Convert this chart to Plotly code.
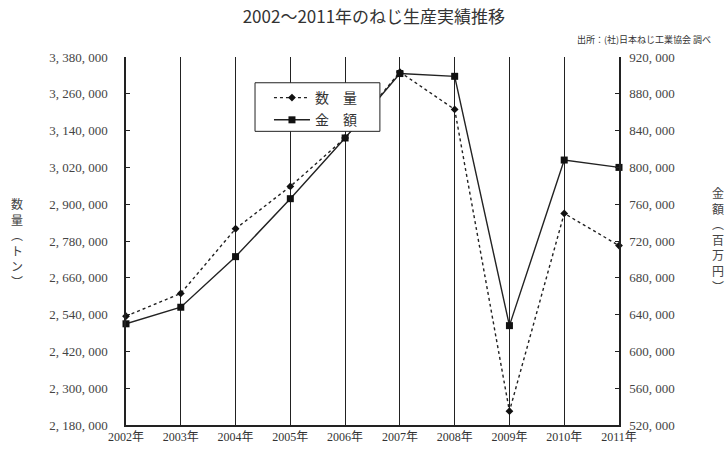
import plotly.graph_objects as go

years = [2002, 2003, 2004, 2005, 2006, 2007, 2008, 2009, 2010, 2011]
year_labels = [f"{y}年" for y in years]
quantity_t = [2535000, 2609000, 2820000, 2958000, 3116000, 3331000, 3209000, 2225000, 2870000, 2765000]
amount_m = [630000, 648000, 703000, 766000, 832000, 902000, 899000, 628000, 808000, 800000]

left_ticks = list(range(2180000, 3380001, 120000))
right_ticks = list(range(520000, 920001, 40000))

def fmt(v):
    return f"{v:,}".replace(",", ", ")

serif = "Liberation Serif, Noto Sans CJK JP, serif"
cjk = "Noto Sans CJK JP, sans-serif"

fig = go.Figure()
fig.add_trace(go.Scatter(
    x=years, y=quantity_t, name="数　量", yaxis="y", legendgroup="q",
    mode="lines+markers",
    line=dict(color="#222", width=1.4, dash="dot"),
    marker=dict(symbol="diamond", size=6, color="#111"),
    cliponaxis=False,
))
fig.add_trace(go.Scatter(
    x=years, y=amount_m, name="金　額", yaxis="y2", legendgroup="a",
    mode="lines+markers",
    line=dict(color="#222", width=1.4),
    marker=dict(symbol="square", size=7, color="#111"),
    cliponaxis=False,
))

fig.update_layout(
    width=726, height=456,
    margin=dict(l=126, r=107, t=57, b=27),
    paper_bgcolor="white", plot_bgcolor="white",
    font=dict(family=serif, color="#333", size=13),
    title=dict(text="2002～2011年のねじ生産実績推移", x=0.515, xanchor="center",
               y=0.962, yanchor="middle", font=dict(family=cjk, size=17, color="#333")),
    xaxis=dict(
        range=[2002, 2011], tickmode="array", tickvals=years, ticktext=year_labels,
        showgrid=True, gridcolor="#222", gridwidth=1,
        showline=True, linecolor="#222", linewidth=1.5, mirror=False,
        ticks="", zeroline=False, tickfont=dict(family=serif, size=12, color="#333"),
    ),
    yaxis=dict(
        range=[2180000, 3380000], tickmode="array", tickvals=left_ticks,
        ticktext=[fmt(v) for v in left_ticks],
        showgrid=False, zeroline=False,
        showline=True, linecolor="#222", linewidth=1.5,
        ticks="inside", ticklen=4, tickcolor="#222",
        ticklabelstandoff=14,
        tickfont=dict(family=serif, size=13, color="#444"),
    ),
    yaxis2=dict(
        range=[520000, 920000], tickmode="array", tickvals=right_ticks,
        ticktext=[fmt(v) for v in right_ticks],
        overlaying="y", side="right",
        showgrid=False, zeroline=False,
        showline=True, linecolor="#222", linewidth=1.5,
        ticks="inside", ticklen=4, tickcolor="#222",
        ticklabelstandoff=6,
        tickfont=dict(family=serif, size=13, color="#444"),
    ),
    legend=dict(
        x=0.29, y=0.932, xanchor="left", yanchor="top",
        bgcolor="rgba(0,0,0,0)", borderwidth=0,
        font=dict(family=cjk, size=14, color="#333"),
        itemwidth=36, tracegroupgap=1,
    ),
    showlegend=True,
    shapes=[dict(type="rect", xref="paper", yref="paper",
                 x0=0.2617, x1=0.515, y0=0.798, y1=0.930,
                 line=dict(color="#222", width=1), fillcolor="white", layer="above")],
)

fig.add_annotation(
    text="出所：(社)日本ねじ工業協会 調べ", xref="paper", yref="paper",
    x=1.19, y=1.047, xanchor="right", yanchor="middle", showarrow=False,
    font=dict(family=cjk, size=9, color="#333"),
)
fig.add_annotation(
    text="数<br>量<br>︵<br>ト<br>ン<br>︶", xref="paper", yref="paper",
    x=-0.222, y=0.63, xanchor="center", yanchor="top", showarrow=False,
    font=dict(family=cjk, size=12, color="#444"),
)
fig.add_annotation(
    text="金<br>額<br>︵<br>百<br>万<br>円<br>︶", xref="paper", yref="paper",
    x=1.2, y=0.66, xanchor="center", yanchor="top", showarrow=False,
    font=dict(family=cjk, size=12, color="#444"),
)

fig.write_html("out.html")
